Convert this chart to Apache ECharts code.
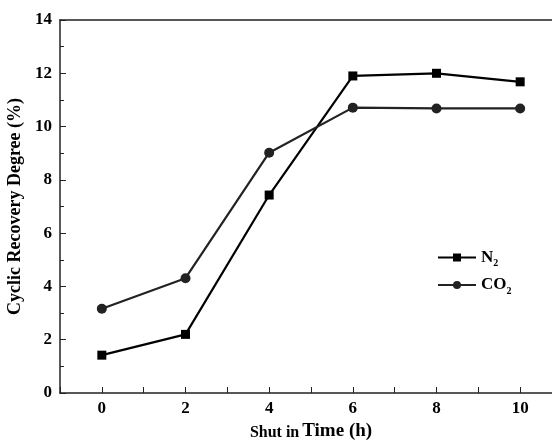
<!DOCTYPE html>
<html>
<head>
<meta charset="utf-8">
<script src="https://cdn.jsdelivr.net/npm/echarts@6/dist/echarts.min.js"></script>
<style>
  html, body { margin: 0; padding: 0; background: #fff; }
  #chart { width: 552px; height: 440px; }
</style>
</head>
<body>
<div id="chart"></div>
<script>
// shut in time (h)
const times = [0, 2, 4, 6, 8, 10]
// cyclic recovery degree (%)
const n2Values = [1.42, 2.2, 7.43, 11.9, 12.0, 11.68]
const co2Values = [3.16, 4.31, 9.02, 10.71, 10.68, 10.68]

const font = 'Liberation Serif'

const chart = echarts.init(document.getElementById('chart'))
const option = {
  animation: false,
  textStyle: { fontFamily: font },
  grid: { left: 60, right: -10, top: 20, bottom: 47, outerBoundsMode: 'none', containLabel: false },
  legend: {
    orient: 'vertical',
    left: 432,
    top: 244,
    itemWidth: 38,
    itemHeight: 10,
    itemGap: 8,
    data: ['N2', 'CO2'],
    formatter: function (name) {
      return name === 'N2' ? 'N{s|2}' : 'CO{s|2}'
    },
    textStyle: {
      fontFamily: font, fontWeight: 'bold', fontSize: 17, color: '#000',
      rich: { s: { fontFamily: font, fontWeight: 'bold', fontSize: 10, padding: [12, 0, 0, 0] } }
    }
  },
  xAxis: [
    {
      type: 'value', min: -1, max: 11, interval: 1,
      name: '{a|Shut in} {b|Time (h)}',
      nameLocation: 'middle', nameGap: 27,
      nameTextStyle: {
        rich: {
          a: { fontFamily: font, fontWeight: 'bold', fontSize: 16, color: '#000', padding: [3, 0, 0, 0] },
          b: { fontFamily: font, fontWeight: 'bold', fontSize: 19, color: '#000' }
        }
      },
      splitLine: { show: false },
      axisLine: { onZero: false, lineStyle: { color: '#222', width: 1.5 } },
      axisTick: { inside: true, length: 6, lineStyle: { color: '#222' } },
      axisLabel: {
        fontFamily: font, fontWeight: 'bold', fontSize: 17, color: '#000', margin: 7,
        formatter: function (v) { return (v >= 0 && v % 2 === 0) ? String(v) : '' }
      }
    },
    {
      type: 'value', min: -1, max: 11, position: 'top',
      axisLine: { onZero: false, lineStyle: { color: '#222', width: 1.5 } },
      axisTick: { show: false }, axisLabel: { show: false }, splitLine: { show: false }
    }
  ],
  yAxis: {
    type: 'value', min: 0, max: 14, interval: 2,
    name: 'Cyclic Recovery Degree (%)',
    nameLocation: 'middle', nameGap: 32,
    nameTextStyle: { fontFamily: font, fontWeight: 'bold', fontSize: 18, color: '#000' },
    splitLine: { show: false },
    minorTick: { show: true, splitNumber: 2, length: 4, lineStyle: { color: '#222' } },
    axisLine: { show: true, onZero: false, lineStyle: { color: '#222', width: 1.5 } },
    axisTick: { inside: true, length: 6, lineStyle: { color: '#222' } },
    axisLabel: { fontFamily: font, fontWeight: 'bold', fontSize: 17, color: '#000', margin: 8 }
  },
  series: [
    {
      name: 'N2', type: 'line',
      data: times.map((t, i) => [t, n2Values[i]]),
      symbol: 'rect', symbolSize: 9,
      itemStyle: { color: '#000' },
      lineStyle: { color: '#000', width: 2.2 }
    },
    {
      name: 'CO2', type: 'line',
      data: times.map((t, i) => [t, co2Values[i]]),
      symbol: 'circle', symbolSize: 10,
      itemStyle: { color: '#222' },
      lineStyle: { color: '#222', width: 2.2 }
    }
  ]
}
chart.setOption(option)
</script>
</body>
</html>
